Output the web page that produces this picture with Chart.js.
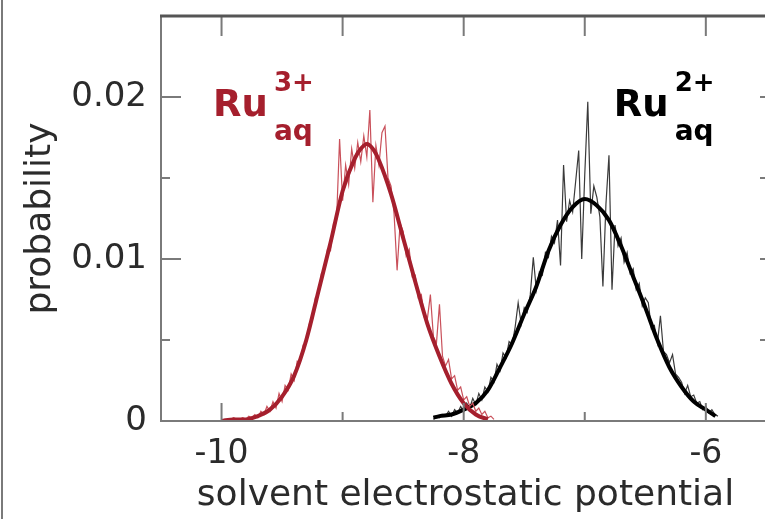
<!DOCTYPE html>
<html>
<head>
<meta charset="utf-8">
<script src="https://cdn.jsdelivr.net/npm/chart.js@4"></script>
<style>
    html, body { margin: 0; padding: 0; overflow: hidden; background: #fff; }
    #wrap { position: relative; width: 770px; height: 519px; }
    #edge { position: absolute; left: 1px; top: 0; width: 2px; height: 519px; background: #7a7a7a; }
</style>
</head>
<body>
<div id="wrap">
    <canvas id="chart1"></canvas>
    <div id="edge"></div>
</div>
<script>
// tick positions
var xTicks = [-10, -9, -8, -7, -6];
var yTicks = [0, 0.005, 0.01, 0.015, 0.02, 0.025];

// Ru(3+) histogram (thin noisy line) and its fit
var red3X = [-10, -9.975, -9.95, -9.925, -9.9, -9.875, -9.85, -9.825, -9.8, -9.775,
    -9.75, -9.725, -9.7, -9.675, -9.65, -9.625, -9.6, -9.575, -9.55, -9.525,
    -9.5, -9.475, -9.45, -9.425, -9.4, -9.375, -9.35, -9.325, -9.3, -9.275,
    -9.25, -9.225, -9.2, -9.175, -9.15, -9.125, -9.1, -9.075, -9.05, -9.025,
    -9, -8.975, -8.95, -8.925, -8.9, -8.875, -8.85, -8.825, -8.8, -8.775,
    -8.75, -8.725, -8.7, -8.675, -8.65, -8.625, -8.6, -8.575, -8.55, -8.525,
    -8.5, -8.475, -8.45, -8.425, -8.4, -8.375, -8.35, -8.325, -8.3, -8.275,
    -8.25, -8.225, -8.2, -8.175, -8.15, -8.125, -8.1, -8.075, -8.05, -8.025,
    -8, -7.975, -7.95, -7.925, -7.9, -7.875, -7.85, -7.825, -7.8, -7.775, -7.75];
var red3Y = [0.0000, 0.0001, 0.0000, 0.0001, 0.0002, 0.0001, 0.0001, 0.0002, 0.0001, 0.0003,
    0.0002, 0.0004, 0.0002, 0.0006, 0.0004, 0.0009, 0.0006, 0.0012, 0.0008, 0.0017,
    0.0012, 0.0022, 0.0019, 0.0029, 0.0025, 0.0037, 0.0036, 0.0047, 0.0048, 0.0060,
    0.0062, 0.0076, 0.0078, 0.0091, 0.0093, 0.0106, 0.0105, 0.0122, 0.0124, 0.0174,
    0.0136, 0.0158, 0.0146, 0.0168, 0.0156, 0.0172, 0.0160, 0.0176, 0.0163, 0.0192,
    0.0135, 0.0170, 0.0158, 0.0178, 0.0182, 0.0150, 0.0145, 0.0128, 0.0093, 0.0122,
    0.0117, 0.0102, 0.0106, 0.0089, 0.0090, 0.0076, 0.0078, 0.0064, 0.0063, 0.0078,
    0.0052, 0.0048, 0.0072, 0.0040, 0.0034, 0.0038, 0.0026, 0.0028, 0.0019, 0.0021,
    0.0013, 0.0015, 0.0009, 0.0011, 0.0006, 0.0008, 0.0004, 0.0006, 0.0002, 0.0003, 0.0001];
var red3FitX = [-10, -9.9, -9.8, -9.7, -9.6, -9.5, -9.4, -9.3, -9.2, -9.1, -9, -8.9, -8.85,
    -8.8, -8.75, -8.7, -8.6, -8.5, -8.4, -8.3, -8.2, -8.1, -8, -7.9, -7.8];
var red3FitY = [0.0000, 0.0001, 0.0001, 0.0003, 0.0007, 0.0015, 0.0028, 0.0050, 0.0080, 0.0110, 0.0142, 0.0162, 0.0168,
    0.0171, 0.0168, 0.0161, 0.0140, 0.0113, 0.0086, 0.0060, 0.0040, 0.0023, 0.0011, 0.0004, 0.0001];

// Ru(2+) histogram and its fit
var black2X = [-8.25, -8.225, -8.2, -8.175, -8.15, -8.125, -8.1, -8.075, -8.05, -8.025,
    -8, -7.975, -7.95, -7.925, -7.9, -7.875, -7.85, -7.825, -7.8, -7.775,
    -7.75, -7.725, -7.7, -7.675, -7.65, -7.625, -7.6, -7.575, -7.55, -7.525,
    -7.5, -7.475, -7.45, -7.425, -7.4, -7.375, -7.35, -7.325, -7.3, -7.275,
    -7.25, -7.225, -7.2, -7.175, -7.15, -7.125, -7.1, -7.075, -7.05, -7.025,
    -7, -6.975, -6.95, -6.925, -6.9, -6.875, -6.85, -6.825, -6.8, -6.775,
    -6.75, -6.725, -6.7, -6.675, -6.65, -6.625, -6.6, -6.575, -6.55, -6.525,
    -6.5, -6.475, -6.45, -6.425, -6.4, -6.375, -6.35, -6.325, -6.3, -6.275,
    -6.25, -6.225, -6.2, -6.175, -6.15, -6.125, -6.1, -6.075, -6.05, -6.025,
    -6, -5.975, -5.95, -5.925, -5.9];
var black2Y = [0.0001, 0.0003, 0.0002, 0.0004, 0.0003, 0.0006, 0.0003, 0.0007, 0.0005, 0.0009,
    0.0006, 0.0011, 0.0008, 0.0014, 0.0010, 0.0017, 0.0013, 0.0021, 0.0018, 0.0027,
    0.0024, 0.0035, 0.0031, 0.0042, 0.0039, 0.0049, 0.0047, 0.0058, 0.0073, 0.0060,
    0.0070, 0.0067, 0.0078, 0.0101, 0.0081, 0.0092, 0.0090, 0.0104, 0.0101, 0.0114,
    0.0110, 0.0124, 0.0096, 0.0158, 0.0123, 0.0136, 0.0129, 0.0148, 0.0167, 0.0100,
    0.0152, 0.0197, 0.0128, 0.0145, 0.0138, 0.0126, 0.0083, 0.0134, 0.0164, 0.0081,
    0.0121, 0.0108, 0.0113, 0.0098, 0.0104, 0.0091, 0.0094, 0.0081, 0.0085, 0.0071,
    0.0076, 0.0073, 0.0057, 0.0059, 0.0048, 0.0065, 0.0043, 0.0041, 0.0036, 0.0041,
    0.0029, 0.0027, 0.0024, 0.0017, 0.0022, 0.0015, 0.0016, 0.0011, 0.0012, 0.0007,
    0.0009, 0.0005, 0.0007, 0.0004, 0.0003];
var black2FitX = [-8.25, -8.2, -8.1, -8, -7.9, -7.8, -7.7, -7.6, -7.5, -7.4, -7.3, -7.2, -7.1,
    -7, -6.9, -6.8, -6.7, -6.6, -6.5, -6.4, -6.3, -6.2, -6.1, -6, -5.92];
var black2FitY = [0.0002, 0.0003, 0.0004, 0.0007, 0.0011, 0.0019, 0.0033, 0.0048, 0.0066, 0.0083, 0.0105, 0.0121, 0.0132,
    0.0137, 0.0133, 0.0124, 0.0108, 0.0089, 0.0070, 0.0050, 0.0033, 0.0021, 0.0012, 0.0007, 0.0003];

function pts(xs, ys) {
    return xs.map(function (x, i) { return { x: x, y: ys[i] }; });
}

var FONT = '"DejaVu Sans", sans-serif';
var RED = '#a51f2d';
var AXIS = '#7a7a7a';

// draws the box and the inward tick marks on all four sides
var frame = {
    id: 'frame',
    afterDraw: function (chart) {
        var ctx = chart.ctx, a = chart.chartArea;
        var xs = chart.scales.x, ys = chart.scales.y;
        ctx.save();
        ctx.strokeStyle = AXIS;
        ctx.lineWidth = 2;
        xs.ticks.forEach(function (t) {
            var px = xs.getPixelForValue(t.value);
            var major = Math.round(t.value) % 2 === 0;
            ctx.beginPath();
            ctx.moveTo(px, a.bottom);
            ctx.lineTo(px, a.bottom - (major ? 18 : 9));
            ctx.moveTo(px, a.top);
            ctx.lineTo(px, a.top + 20);
            ctx.stroke();
        });
        ys.ticks.forEach(function (t) {
            var py = ys.getPixelForValue(t.value);
            var major = Math.round(t.value * 1000) % 10 === 0;
            ctx.beginPath();
            ctx.moveTo(a.left, py);
            ctx.lineTo(a.left + (major ? 20 : 9), py);
            ctx.moveTo(a.right, py);
            ctx.lineTo(a.right - 10, py);
            ctx.stroke();
        });
        ctx.beginPath();
        ctx.moveTo(a.left, a.top);
        ctx.lineTo(a.left, a.bottom);
        ctx.lineTo(a.right, a.bottom);
        ctx.lineTo(a.right, a.top);
        ctx.stroke();
        ctx.strokeStyle = '#555';
        ctx.lineWidth = 3;
        ctx.beginPath();
        ctx.moveTo(a.left - 1, a.top);
        ctx.lineTo(a.right, a.top);
        ctx.stroke();
        ctx.restore();
    }
};

// Ru labels with super- and subscripts
var ionLabels = {
    id: 'ionLabels',
    afterDatasetsDraw: function (chart, args, opts) {
        var ctx = chart.ctx;
        ctx.save();
        ctx.textBaseline = 'alphabetic';
        ctx.textAlign = 'left';
        opts.items.forEach(function (it) {
            var px = chart.scales.x.getPixelForValue(it.x);
            var py = chart.scales.y.getPixelForValue(it.y);
            ctx.fillStyle = it.color;
            ctx.font = 'bold 37px ' + FONT;
            ctx.fillText('Ru', px, py);
            var w = ctx.measureText('Ru').width;
            ctx.font = 'bold 26px ' + FONT;
            ctx.fillText(it.charge, px + w + 6, py - 25);
            ctx.font = 'bold 28px ' + FONT;
            ctx.fillText('aq', px + w + 6, py + 24);
        });
        ctx.restore();
    }
};

function noPad(s) {
    s.paddingTop = 0;
    s.paddingBottom = 0;
    s.paddingLeft = 0;
    s.paddingRight = 0;
}

var ctx1 = document.getElementById('chart1').getContext('2d');
var chart1 = new Chart(ctx1, {
    type: 'line',
    data: {
        datasets: [{
            label: 'Ru3+ fit',
            data: pts(red3FitX, red3FitY),
            borderColor: RED,
            borderWidth: 4,
            cubicInterpolationMode: 'monotone'
        }, {
            label: 'Ru3+',
            data: pts(red3X, red3Y),
            borderColor: '#c9505a',
            borderWidth: 1.2
        }, {
            label: 'Ru2+ fit',
            data: pts(black2FitX, black2FitY),
            borderColor: '#000',
            borderWidth: 4,
            cubicInterpolationMode: 'monotone'
        }, {
            label: 'Ru2+',
            data: pts(black2X, black2Y),
            borderColor: '#3a3a3a',
            borderWidth: 1.2
        }]
    },
    options: {
        responsive: true,
        maintainAspectRatio: false,
        animation: false,
        parsing: false,
        elements: { point: { radius: 0 }, line: { tension: 0, fill: false } },
        layout: { padding: { top: 16, right: 0, bottom: 0, left: 0 } },
        plugins: {
            legend: { display: false },
            tooltip: { enabled: false },
            ionLabels: {
                items: [
                    { x: -10.07, y: 0.0188, charge: '3+', color: RED },
                    { x: -6.76, y: 0.0188, charge: '2+', color: '#000' }
                ]
            }
        },
        scales: {
            x: {
                type: 'linear',
                min: -10.5,
                max: -5.47,
                grid: { display: false, drawTicks: false },
                border: { display: false },
                afterBuildTicks: function (s) {
                    s.ticks = xTicks.map(function (v) { return { value: v }; });
                },
                ticks: {
                    autoSkip: false,
                    maxRotation: 0,
                    padding: 14,
                    color: '#2b2b2b',
                    font: { family: FONT, size: 33 },
                    callback: function (v) { return Math.round(v) % 2 === 0 ? String(v) : ''; }
                },
                title: {
                    display: true,
                    text: 'solvent electrostatic potential',
                    color: '#2b2b2b',
                    font: { family: FONT, size: 36 },
                    padding: { top: 0, bottom: 2 }
                },
                afterFit: function (s) { s.height = 98; noPad(s); }
            },
            y: {
                min: 0,
                max: 0.025,
                grid: { display: false, drawTicks: false },
                border: { display: false },
                afterBuildTicks: function (s) {
                    s.ticks = yTicks.map(function (v) { return { value: v }; });
                },
                ticks: {
                    autoSkip: false,
                    padding: 14,
                    color: '#2b2b2b',
                    font: { family: FONT, size: 34 },
                    callback: function (v) {
                        if (Math.round(v * 1000) % 10 !== 0) return '';
                        return v === 0 ? '0' : v.toFixed(2);
                    }
                },
                title: {
                    display: true,
                    text: 'probability',
                    color: '#2b2b2b',
                    font: { family: FONT, size: 36 },
                    padding: { top: 19, bottom: 0 }
                },
                afterFit: function (s) { s.width = 161; noPad(s); }
            }
        }
    },
    plugins: [frame, ionLabels]
});
</script>
</body>
</html>
